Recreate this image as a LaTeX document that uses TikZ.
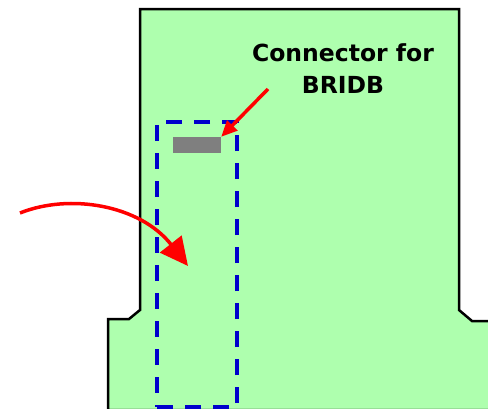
\documentclass[tikz,border=0pt]{standalone}
\usepackage{fontspec}
\setmainfont{DejaVu Sans}
\usetikzlibrary{arrows.meta,positioning}

\definecolor{boardgreen}{HTML}{AEFFAE}
\definecolor{dashblue}{HTML}{0000CC}
\definecolor{conngray}{HTML}{7F7F7F}

\begin{document}
\begin{tikzpicture}[
  x=1pt, y=-1pt,
  % === Shape styles ===
  board/.style={draw=black, fill=boardgreen, line width=2.5pt, line join=miter},
  region/.style={
    draw=dashblue, line width=3.5pt,
    dash pattern=on 16pt off 12pt,
    minimum width=80pt, minimum height=285pt,
    inner sep=0pt
  },
  connbox/.style={fill=conngray, minimum width=48pt, minimum height=16pt, inner sep=0pt},
  % === Arrow styles ===
  arr/.style={-{Triangle[length=16pt,width=14pt]}, line width=3.5pt, red},
  bigarr/.style={-{Triangle[length=28pt,width=27pt]}, line width=3.5pt, red},
  % === Label styles ===
  lbl/.style={font=\fontsize{23.5}{32}\selectfont\bfseries, align=center, inner sep=0pt},
]

\useasboundingbox (0,0) rectangle (488,408);
\clip (0,0) rectangle (488,408);

% =============================================
% Board outline
% =============================================
\draw[board] (108,410) -- (108,319) -- (129,319) -- (140,310) -- (140,9)
  -- (459,9) -- (459,310) -- (472,321) -- (492,321) -- (492,410) -- cycle;

% =============================================
% Dashed region and connector
% =============================================
\node[region] (zone) at (197,264.5) {};
\node[connbox] (conn) at (197,145) {};

% =============================================
% Label
% =============================================
\node[lbl] (connlbl) at (343,69) {Connector for\\BRIDB};

% =============================================
% Arrows
% =============================================
\coordinate (lbltail) at (268,89);
\draw[arr] (lbltail) -- (conn.north east);

\coordinate (curvestart) at (20,213);
\coordinate (target) at (188,266);
\draw[bigarr] (curvestart) .. controls (70,193) and (140,205) .. (target);

\end{tikzpicture}
\end{document}
